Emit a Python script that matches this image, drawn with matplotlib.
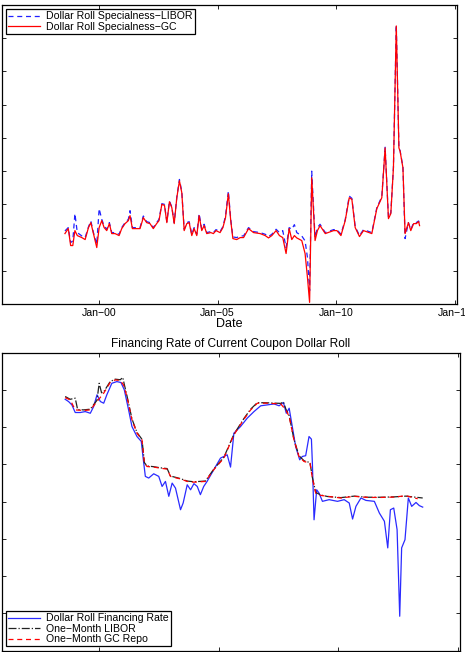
import matplotlib
matplotlib.use("Agg")
import matplotlib.pyplot as plt

plt.rcParams["font.family"] = ["Liberation Sans", "DejaVu Sans"]

# ---- top panel: dollar roll specialness (percent) ----
spec_years = [
    1998.57, 1998.71, 1998.81, 1998.90, 1998.99, 1999.09, 1999.28, 1999.42, 1999.56, 1999.66,
    1999.77, 1999.91, 2000.01, 2000.12, 2000.22, 2000.33, 2000.44, 2000.54, 2000.68, 2000.85,
    2000.96, 2001.10, 2001.24, 2001.31, 2001.41, 2001.59, 2001.73, 2001.87, 2002.01, 2002.15,
    2002.29, 2002.43, 2002.53, 2002.65, 2002.76, 2002.86, 2002.97, 2003.07, 2003.17, 2003.28,
    2003.39, 2003.49, 2003.59, 2003.70, 2003.80, 2003.91, 2004.01, 2004.12, 2004.22, 2004.33,
    2004.43, 2004.54, 2004.71, 2004.82, 2004.93, 2005.10, 2005.22, 2005.33, 2005.45, 2005.55,
    2005.64, 2005.80, 2005.95, 2006.09, 2006.30, 2006.51, 2006.79, 2007.00, 2007.14, 2007.28,
    2007.46, 2007.60, 2007.74, 2007.88, 2008.01, 2008.12, 2008.23, 2008.33, 2008.54, 2008.68,
    2008.78, 2008.87, 2008.96, 2009.10, 2009.20, 2009.31, 2009.53, 2009.88, 2010.02, 2010.19,
    2010.37, 2010.54, 2010.65, 2010.79, 2010.97, 2011.14, 2011.49, 2011.70, 2011.91, 2012.05,
    2012.19, 2012.29, 2012.40, 2012.52, 2012.63, 2012.68, 2012.80, 2012.89, 2013.03, 2013.13,
    2013.25, 2013.36, 2013.46, 2013.50,
]
spec_gc = [
    0.12, 0.27, -0.24, -0.24, 0.21, 0.06, 0.00, -0.06, 0.30, 0.45,
    0.12, -0.30, 0.30, 0.51, 0.30, 0.21, 0.42, 0.12, 0.12, 0.06,
    0.27, 0.42, 0.51, 0.66, 0.27, 0.27, 0.27, 0.60, 0.45, 0.42,
    0.27, 0.42, 0.51, 1.00, 0.97, 0.45, 1.08, 0.90, 0.42, 1.20,
    1.71, 1.35, 0.21, 0.42, 0.45, 0.06, 0.27, 0.06, 0.66, 0.21,
    0.36, 0.12, 0.15, 0.12, 0.21, 0.15, 0.30, 0.60, 1.32, 0.51,
    -0.03, -0.06, 0.00, 0.00, 0.27, 0.15, 0.12, 0.06, -0.01, 0.06,
    0.21, 0.06, 0.00, -0.48, 0.27, -0.06, 0.06, -0.01, -0.09, -0.48,
    -1.20, -1.95, 1.80, -0.09, 0.21, 0.36, 0.12, 0.21, 0.21, 0.06,
    0.51, 1.20, 1.15, 0.30, 0.03, 0.21, 0.12, 0.87, 1.20, 2.70,
    0.57, 0.72, 2.10, 6.37, 2.70, 2.60, 2.10, 0.12, 0.45, 0.21,
    0.42, 0.42, 0.48, 0.36,
]
spec_libor = [
    0.20, 0.30, -0.15, -0.10, 0.72, 0.15, 0.05, 0.00, 0.32, 0.50,
    0.15, -0.20, 0.87, 0.55, 0.35, 0.25, 0.45, 0.15, 0.15, 0.10,
    0.30, 0.45, 0.55, 0.81, 0.30, 0.30, 0.30, 0.65, 0.48, 0.45,
    0.30, 0.45, 0.55, 1.02, 1.00, 0.48, 1.10, 0.92, 0.45, 1.22,
    1.75, 1.38, 0.25, 0.45, 0.48, 0.10, 0.30, 0.10, 0.72, 0.25,
    0.40, 0.15, 0.18, 0.15, 0.24, 0.18, 0.33, 0.65, 1.40, 0.55,
    0.02, 0.00, 0.05, 0.05, 0.30, 0.18, 0.15, 0.10, 0.03, 0.10,
    0.25, 0.15, 0.21, -0.30, 0.30, 0.25, 0.39, 0.15, 0.05, -0.10,
    -0.60, -1.60, 2.00, 0.00, 0.30, 0.40, 0.15, 0.24, 0.24, 0.10,
    0.54, 1.25, 1.18, 0.33, 0.06, 0.24, 0.15, 0.90, 1.23, 2.72,
    0.60, 0.75, 2.12, 6.40, 2.72, 2.62, 2.12, -0.03, 0.45, 0.24,
    0.45, 0.45, 0.50, 0.40,
]

# ---- bottom panel: financing rates (percent) ----
gc_years = [
    1998.58, 1998.79, 1999.00, 1999.35, 1999.63, 1999.91, 2000.19, 2000.46, 2000.67, 2000.88,
    2001.02, 2001.16, 2001.37, 2001.58, 2001.79, 2001.89, 2002.00, 2002.28, 2002.56, 2002.84,
    2002.98, 2003.40, 2003.68, 2003.96, 2004.44, 2004.79, 2005.21, 2005.63, 2006.05, 2006.33,
    2006.61, 2007.03, 2007.59, 2007.80, 2007.94, 2008.14, 2008.35, 2008.56, 2008.81, 2008.91,
    2009.05, 2009.26, 2009.54, 2010.10, 2010.66, 2011.22, 2011.78, 2012.33, 2012.82, 2013.31,
]
gc_repo = [
    5.59, 5.47, 4.93, 4.90, 4.93, 5.38, 5.83, 6.40, 6.54, 6.51,
    6.27, 5.65, 4.40, 3.68, 3.32, 2.07, 1.89, 1.86, 1.80, 1.75,
    1.36, 1.22, 1.09, 1.05, 1.09, 1.72, 2.34, 3.59, 4.43, 4.93,
    5.29, 5.29, 5.25, 4.93, 4.58, 3.32, 2.43, 2.16, 2.07, 1.27,
    0.46, 0.34, 0.29, 0.20, 0.29, 0.23, 0.23, 0.25, 0.32, 0.16,
]

libor_years = [
    1998.58, 1998.79, 1999.00, 1999.10, 1999.35, 1999.63, 1999.91, 2000.00, 2000.10, 2000.19,
    2000.46, 2000.67, 2000.88, 2000.99, 2001.05, 2001.16, 2001.37, 2001.58, 2001.79, 2001.89,
    2002.00, 2002.28, 2002.56, 2002.84, 2002.98, 2003.40, 2003.68, 2003.96, 2004.44, 2004.79,
    2005.21, 2005.63, 2006.05, 2006.33, 2006.61, 2007.03, 2007.59, 2007.70, 2007.80, 2007.94,
    2008.14, 2008.35, 2008.56, 2008.81, 2008.91, 2009.05, 2009.26, 2009.54, 2010.10, 2010.66,
    2011.22, 2011.78, 2012.33, 2012.82, 2013.52,
]
libor = [
    5.65, 5.50, 5.56, 4.95, 4.93, 4.97, 5.45, 6.36, 5.85, 5.90,
    6.45, 6.58, 6.55, 6.67, 6.30, 5.70, 4.45, 3.72, 3.35, 2.10,
    1.92, 1.88, 1.82, 1.78, 1.38, 1.24, 1.11, 1.07, 1.11, 1.75,
    2.38, 3.62, 4.47, 4.97, 5.32, 5.31, 5.28, 5.36, 4.98, 4.62,
    3.35, 2.47, 2.20, 2.10, 1.30, 0.50, 0.36, 0.28, 0.22, 0.30,
    0.24, 0.24, 0.26, 0.30, 0.20,
]

fin_years = [
    1998.58, 1998.72, 1998.86, 1999.00, 1999.21, 1999.42, 1999.63, 1999.77, 1999.91, 2000.05,
    2000.19, 2000.32, 2000.53, 2000.74, 2000.91, 2001.05, 2001.23, 2001.37, 2001.58, 2001.76,
    2001.83, 2001.93, 2002.07, 2002.28, 2002.49, 2002.63, 2002.77, 2002.91, 2003.05, 2003.19,
    2003.40, 2003.51, 2003.68, 2003.82, 2003.96, 2004.10, 2004.23, 2004.37, 2004.51, 2004.79,
    2005.07, 2005.35, 2005.49, 2005.63, 2005.91, 2006.19, 2006.47, 2006.75, 2007.03, 2007.31,
    2007.52, 2007.70, 2007.82, 2007.94, 2008.07, 2008.21, 2008.38, 2008.49, 2008.63, 2008.77,
    2008.87, 2008.91, 2008.98, 2009.09, 2009.19, 2009.33, 2009.61, 2009.96, 2010.24, 2010.45,
    2010.59, 2010.73, 2010.94, 2011.15, 2011.50, 2011.71, 2011.92, 2012.06, 2012.17, 2012.31,
    2012.45, 2012.56, 2012.64, 2012.78, 2012.92, 2013.06, 2013.24, 2013.38, 2013.52,
]
fin_rate = [
    5.50, 5.38, 5.20, 4.79, 4.79, 4.84, 4.75, 5.11, 5.74, 5.38,
    5.29, 5.74, 6.36, 6.45, 6.40, 6.01, 4.93, 4.04, 3.50, 3.24,
    2.43, 1.36, 1.27, 1.50, 1.36, 0.82, 1.09, 0.29, 1.00, 0.73,
    -0.43, -0.07, 0.91, 0.64, 0.97, 0.82, 0.38, 0.82, 1.09, 1.72,
    2.34, 2.52, 1.86, 3.68, 4.04, 4.49, 4.84, 5.15, 5.20, 5.25,
    5.15, 5.33, 4.75, 5.02, 4.04, 2.97, 2.25, 2.43, 2.47, 3.50,
    3.36, 2.07, -0.97, 0.64, 0.46, 0.02, 0.11, 0.02, 0.11, -0.07,
    -0.93, -0.25, 0.20, 0.07, 0.02, -0.61, -1.05, -2.48, -0.43, -0.34,
    -1.50, -6.15, -2.48, -2.04, 0.20, -0.25, -0.04, -0.21, -0.29,
]

xtick_years = [2000, 2005, 2010, 2015]
xtick_labels = ["Jan\u221200", "Jan\u221205", "Jan\u221210", "Jan\u221215"]


def style_axes(ax):
    ax.tick_params(direction="in", top=True, right=True, length=3, width=0.6,
                   labelsize=7.6, pad=3)
    for sp in ax.spines.values():
        sp.set_linewidth(0.9)
    ax.set_xticks(xtick_years)
    ax.set_yticklabels([])


def boxed_legend(ax, loc):
    leg = ax.legend(loc=loc, fontsize=7.6, handlelength=3.0, borderpad=0.2,
                    labelspacing=0.05, handletextpad=0.6, borderaxespad=0.4,
                    fancybox=False, framealpha=1)
    leg.get_frame().set_edgecolor("black")
    leg.get_frame().set_linewidth(0.9)
    return leg


fig = plt.figure(figsize=(4.65, 6.52), dpi=100)

# top panel
ax1 = fig.add_axes([0.0043, 0.5337, 0.9787, 0.4586])
ax1.plot(spec_years, spec_libor, "--", color="#2020ff", lw=0.9, dashes=(4, 3),
         label="Dollar Roll Specialness\u2212LIBOR")
ax1.plot(spec_years, spec_gc, "-", color="#ff0000", lw=0.9,
         label="Dollar Roll Specialness\u2212GC")
ax1.set_xlim(1995.92, 2015.08)
ax1.set_ylim(-2, 7)
ax1.set_yticks(range(-1, 7))
style_axes(ax1)
ax1.set_xticklabels(xtick_labels)
ax1.set_xlabel("Date", fontsize=9, labelpad=0)
boxed_legend(ax1, "upper left")

# bottom panel
ax2 = fig.add_axes([0.0043, 0.002, 0.9850, 0.457])
ax2.plot(fin_years, fin_rate, "-", color="#2a2aff", lw=0.9,
         label="Dollar Roll Financing Rate")
ax2.plot(libor_years, libor, "-.", color="#222222", lw=0.9,
         label="One\u2212Month LIBOR")
ax2.plot(gc_years, gc_repo, "--", color="#ff0000", lw=0.9, dashes=(4, 3),
         label="One\u2212Month GC Repo")
ax2.set_xlim(1995.94, 2015.08)
ax2.set_ylim(-8, 8)
ax2.set_yticks(range(-6, 8, 2))
style_axes(ax2)
ax2.set_xticklabels([])
ax2.set_title("Financing Rate of Current Coupon Dollar Roll", fontsize=8.6, pad=4)
boxed_legend(ax2, "lower left")

fig.savefig("out.png", dpi=100)
